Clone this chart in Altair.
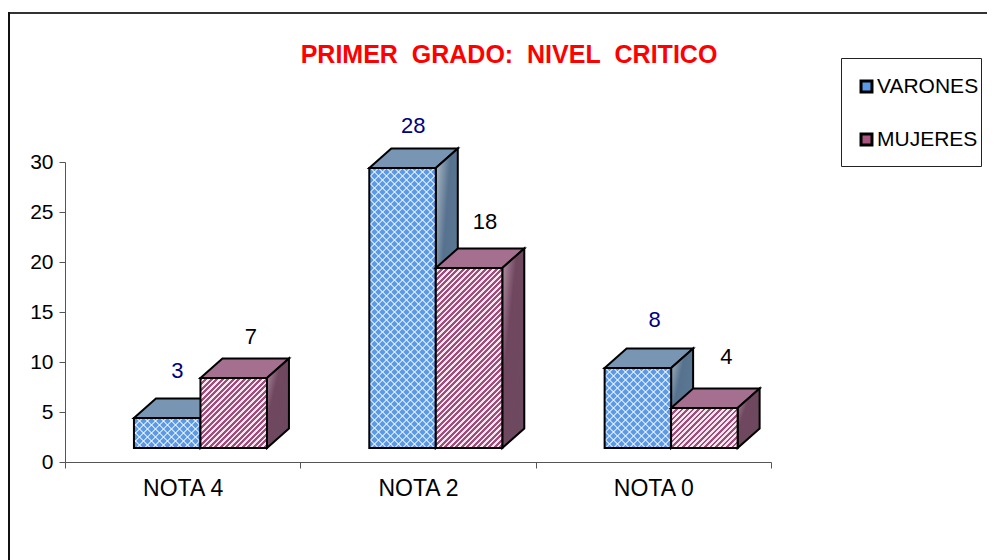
import altair as alt
import pandas as pd

categories = ["NOTA 4", "NOTA 2", "NOTA 0"]
series = ["VARONES", "MUJERES"]
varones = [3, 28, 8]
mujeres = [7, 18, 4]
title_text = "PRIMER\u00a0 GRADO:\u00a0 NIVEL\u00a0 CRITICO"

# label anchors (category units, value units)
label_x_varones = [0.477, 1.48, 2.505]
label_y_varones = [9.1, 33.6, 14.2]
label_x_mujeres = [0.79, 1.785, 2.81]
label_y_mujeres = [12.5, 24.0, 10.5]

FONT = "Liberation Sans"
BAND_PX = 706 / 3
UNIT_PX = 10
BASE = 1.4          # front face floats above the axis line
DEPTH_X = 22 / BAND_PX
DEPTH_Y = 1.95
BAR_W = 66.5 / BAND_PX
LEFT = {"VARONES": 0.293, "MUJERES": 0.293 + BAR_W}

X = alt.Scale(domain=[0, 3], nice=False, zero=False)
Y = alt.Scale(domain=[0, 30], nice=False, zero=False)
COLOR = alt.Scale(domain=series, range=["#5a9ae6", "#a9557f"])

front_rows, top_rows, side_rows = [], [], []
for s, vals in zip(series, [varones, mujeres]):
    for i, v in enumerate(vals):
        x0 = i + LEFT[s]
        x1 = x0 + BAR_W
        t = BASE + v
        key = f"{s}-{i}"
        front_rows.append(dict(key=key, s=s, i=i, v=v, x0=x0, x1=x1, y0=BASE, y1=t))
        top_rows += [
            dict(key=key, s=s, x=x0, y=t, y2=t),
            dict(key=key, s=s, x=x0 + DEPTH_X, y=t + DEPTH_Y, y2=t),
            dict(key=key, s=s, x=x1, y=t + DEPTH_Y, y2=t),
            dict(key=key, s=s, x=x1 + DEPTH_X, y=t + DEPTH_Y, y2=t + DEPTH_Y),
        ]
        side_rows += [
            dict(key=key, s=s, x=x1, y=t, y2=BASE),
            dict(key=key, s=s, x=x1 + DEPTH_X, y=t + DEPTH_Y, y2=BASE + DEPTH_Y),
        ]
front = pd.DataFrame(front_rows)
top = pd.DataFrame(top_rows)
side = pd.DataFrame(side_rows)


def stripes(w, h, period, duty, c_on, c_off, back=False):
    """Hard-stop gradient that reads as 45-degree hatching on a w x h box."""
    s = (1 / h + 1 / w) / (1 / h**2 + 1 / w**2)
    a, b = s / h, s / w
    n = (w + h) / period
    stops = []
    k = 0
    while k < n:
        p0, p1, p2 = k / n, min((k + duty) / n, 1), min((k + 1) / n, 1)
        stops += [
            dict(offset=p0, color=c_on), dict(offset=p1, color=c_on),
            dict(offset=p1, color=c_off), dict(offset=p2, color=c_off),
        ]
        k += 1
    if back:
        return dict(gradient="linear", x1=0, y1=1, x2=a, y2=1 - b, stops=stops)
    return dict(gradient="linear", x1=0, y1=0, x2=a, y2=b, stops=stops)


def rect_enc(d):
    return alt.Chart(d), dict(
        x=alt.X("x0:Q", scale=X, axis=None),
        x2="x1:Q",
        y=alt.Y("y0:Q", scale=Y, axis=None),
        y2="y1:Q",
    )


def face(d, fill, sw=2):
    return alt.Chart(d).mark_area(
        fill=fill, stroke="#000000", strokeWidth=sw, strokeJoin="miter", interpolate="linear"
    ).encode(
        x=alt.X("x:Q", scale=X, axis=None),
        y=alt.Y("y:Q", scale=Y, axis=None),
        y2="y2:Q",
        detail="key:N",
    )


def side_fill(c0, c1, c2):
    return dict(gradient="linear", x1=0, y1=0, x2=1, y2=1,
                stops=[dict(offset=0, color=c0), dict(offset=0.35, color=c1), dict(offset=1, color=c2)])


def front_layers(s):
    d = front[front.s == s]
    base_chart, enc = rect_enc(d)
    out = [base_chart.mark_rect().encode(
        color=alt.Color("s:N", scale=COLOR, legend=alt.Legend(
            title=None, orient="none", legendX=791, legendY=-86,
            symbolType="square", symbolSize=120, symbolStrokeColor="#000000",
            symbolStrokeWidth=3, labelFont=FONT, labelFontSize=21, labelColor="#000000",
            labelOffset=0, rowPadding=30, padding=0, labelLimit=200)),
        **enc)]
    for _, r in d.iterrows():
        w, h = (r.x1 - r.x0) * BAND_PX, r.v * UNIT_PX
        one = d[d.key == r.key]
        c, e = rect_enc(one)
        if s == "VARONES":
            out.append(c.mark_rect(fill=stripes(w, h, 8, 0.25, "rgba(255,255,255,0.6)", "rgba(255,255,255,0)")).encode(**e))
            out.append(c.mark_rect(fill=stripes(w, h, 8, 0.25, "rgba(255,255,255,0.6)", "rgba(255,255,255,0)", back=True)).encode(**e))
        else:
            out.append(c.mark_rect(fill=stripes(w, h, 5.5, 0.5, "#a04d7c", "#f4e6ee")).encode(**e))
    c, e = rect_enc(d)
    out.append(c.mark_rect(filled=False, stroke="#000000", strokeWidth=2).encode(**e))
    return out


layers = []

# x axis: categories on a band scale with ticks at the band edges
axis_df = pd.DataFrame({"cat": categories, "zero": [0, 0, 0]})
layers.append(
    alt.Chart(axis_df).mark_tick(opacity=0).encode(
        x=alt.X("cat:N", sort=categories, title=None,
                scale=alt.Scale(paddingInner=0, paddingOuter=0),
                axis=alt.Axis(orient="bottom", tickBand="extent", labelAngle=0, grid=False, domain=True,
                              domainColor="#555555", tickColor="#555555", tickSize=6, labelFont=FONT,
                              labelFontSize=23, labelColor="#000000", labelPadding=9)),
        y=alt.Y("zero:Q", scale=Y, title=None,
                axis=alt.Axis(orient="left", values=[0, 5, 10, 15, 20, 25, 30], grid=False,
                              domainColor="#555555", tickColor="#555555", tickSize=6, labelFont=FONT,
                              labelFontSize=21, labelColor="#000000", labelPadding=6)),
    )
)

for s, top_c, side_c in [
    ("VARONES", "#7896b4", ("#b4c0cc", "#56728e", "#5f7d98")),
    ("MUJERES", "#a5708f", ("#b99aac", "#70475f", "#6b4a60")),
]:
    layers.append(face(top[top.s == s], top_c))
    layers.append(face(side[side.s == s], side_fill(*side_c)))
    layers += front_layers(s)

# data labels
lab = pd.DataFrame({
    "x": label_x_varones + label_x_mujeres,
    "y": label_y_varones + label_y_mujeres,
    "t": varones + mujeres,
    "s": ["VARONES"] * 3 + ["MUJERES"] * 3,
})
for s, col in [("VARONES", "#000080"), ("MUJERES", "#000000")]:
    layers.append(
        alt.Chart(lab[lab.s == s]).mark_text(font=FONT, fontSize=22, color=col, baseline="middle", align="center").encode(
            x=alt.X("x:Q", scale=X, axis=None),
            y=alt.Y("y:Q", scale=Y, axis=None),
            text="t:N",
        )
    )

# outer frame and legend frame (decoration, not data)
deco = pd.DataFrame({"a": [0]})
frame_top = alt.Chart(deco).mark_rule(color="#333333", strokeWidth=2).encode(
    x=alt.value(-57), x2=alt.value(930), y=alt.value(-149))
frame_left = alt.Chart(deco).mark_rule(color="#111111", strokeWidth=2).encode(
    x=alt.value(-56), y=alt.value(-150), y2=alt.value(398))
legend_box = alt.Chart(deco).mark_rect(filled=False, stroke="#222222", strokeWidth=1).encode(
    x=alt.value(776.5), x2=alt.value(916.5), y=alt.value(-103.5), y2=alt.value(4.5))
layers = [frame_top, frame_left, legend_box] + layers

chart = alt.layer(*layers).resolve_scale(x="independent").resolve_axis(x="independent", y="independent").properties(
    width=706,
    height=300,
    background="#ffffff",
    autosize=alt.AutoSizeParams(type="none"),
    padding={"left": 57, "top": 154, "right": 216, "bottom": 98},
    title=alt.TitleParams(title_text, font=FONT, fontSize=25, fontWeight="bold", color="#ff0000",
                          anchor="middle", dx=91, dy=61),
).configure_view(stroke=None)

chart.save("out.html", embed_options={"renderer": "svg", "actions": False})
